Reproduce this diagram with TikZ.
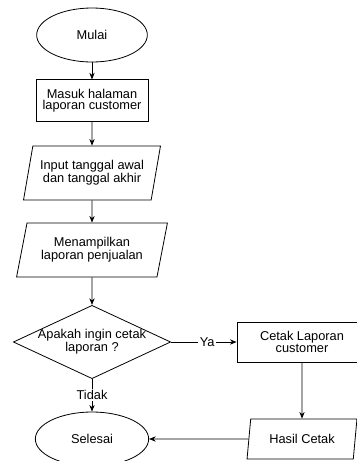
\documentclass[tikz,border=0pt]{standalone}
\usepackage{fontspec}
\setmainfont{Liberation Sans}
\usetikzlibrary{shapes.geometric, arrows.meta}

\tikzset{
    terminal/.style={draw, ellipse, minimum width=83pt, minimum height=40.5pt, inner sep=0pt},
    proses/.style={draw, rectangle, inner sep=0pt, align=center},
    data/.style={draw, trapezium, trapezium left angle=72, trapezium right angle=108, trapezium stretches=true, inner sep=0pt, align=center},
    keputusan/.style={draw, diamond, minimum width=118pt, minimum height=55pt, inner sep=0pt},
    panah/.style={-{Stealth[length=5pt, width=4pt]}},
    ket/.style={fill=white, inner sep=1pt}
}

\begin{document}
\begin{tikzpicture}[x=0.75pt, y=-0.75pt, line width=0.6pt, font=\fontsize{9.6}{8.4}\selectfont]
        % Batas gambar
        \useasboundingbox (0,0) rectangle (357,461);
        \clip (0,0) rectangle (357,461);

        % Kolom kiri: alur utama
        \node[terminal] (mulai) at (92,35) {Mulai};
        \node[proses, minimum width=84pt, minimum height=31pt] (masuk) at (92,100.5) {Masuk halaman\\laporan customer};
        \node[data, minimum width=103.5pt, minimum height=40.5pt] (input) at (92,173) {Input tanggal awal\\dan tanggal akhir};
        \node[data, minimum width=114pt, minimum height=40.5pt] (tampil) at (92,250) {Menampilkan\\laporan penjualan};
        \node[keputusan] (tanya) at (92,342) {};
        \node[inner sep=0pt] (tanyateks) at (92,342) {\begin{tabular}{@{}c@{}}Apakah ingin cetak\\ laporan ?\end{tabular}};
        \node[terminal, minimum width=85pt] (selesai) at (92,439) {Selesai};

        % Kolom kanan: cetak laporan
        \node[proses, minimum width=97.5pt, minimum height=30pt] (cetak) at (302,342) {Cetak Laporan\\customer};
        \node[data, trapezium left angle=76, trapezium right angle=104, minimum width=82.5pt, minimum height=30pt] (hasil) at (302,439) {Hasil Cetak};

        % Panah penghubung
        \draw[panah] (mulai) -- (masuk);
        \draw[panah] (masuk) -- (input);
        \draw[panah] (input) -- (tampil);
        \draw[panah] (tampil) -- (tanya);
        \draw[panah] (tanya.east) -- node[ket, pos=0.55] {Ya} (cetak.west);
        \draw[panah] (tanya.south) -- node[ket] {Tidak} (selesai.north);
        \draw[panah] (cetak) -- (hasil);
        \draw[panah] (hasil.west) -- (selesai.east);
    \end{tikzpicture}
\end{document}
